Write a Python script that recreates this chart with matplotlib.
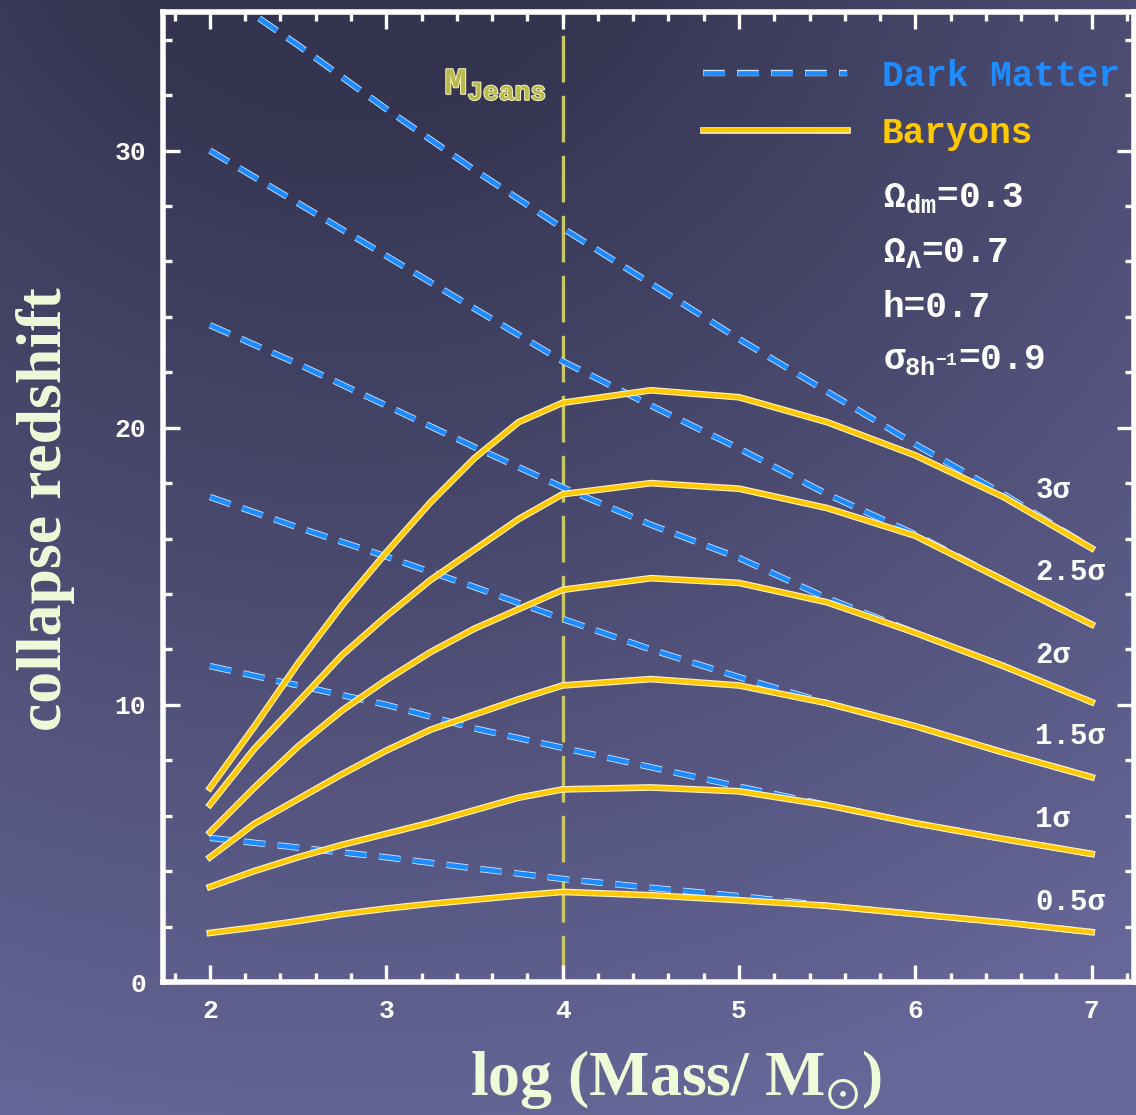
import numpy as np
import matplotlib
matplotlib.use('Agg')
import matplotlib.pyplot as plt
import matplotlib.patheffects as pe
from matplotlib.ticker import MultipleLocator

# ---------------- data ----------------
log_mass_dm = [2.0, 2.5, 3.0, 3.5, 4.0, 4.5, 5.0, 5.5, 6.0, 6.5, 7.0]
dm_3_0 = [36.0, 33.8, 31.5, 29.3, 27.2, 25.2, 23.2, 21.3, 19.4, 17.6, 15.65]
dm_2_5 = [30.0, 28.1, 26.2, 24.3, 22.4, 20.8, 19.25, 17.6, 16.15, 14.5, 12.9]
dm_2_0 = [23.7, 22.3, 20.8, 19.3, 17.85, 16.5, 15.3, 13.85, 12.6, 11.4, 10.1]
dm_1_5 = [17.5, 16.4, 15.35, 14.25, 13.1, 12.0, 11.0, 10.06, 9.23, 8.28, 7.39]
dm_1_0 = [11.4, 10.7, 10.0, 9.15, 8.45, 7.75, 7.05, 6.38, 5.73, 5.16, 4.62]
dm_0_5 = [5.2, 4.85, 4.5, 4.1, 3.72, 3.4, 3.1, 2.75, 2.45, 2.15, 1.8]

log_mass_b = [2.0, 2.25, 2.5, 2.75, 3.0, 3.25, 3.5, 3.75, 4.0, 4.5, 5.0, 5.5, 6.0, 6.5, 7.0]
bar_3_0 = [7.0, 9.2, 11.5, 13.6, 15.5, 17.3, 18.9, 20.2, 20.9, 21.35, 21.1, 20.2, 19.0, 17.5, 15.65]
bar_2_5 = [6.4, 8.4, 10.1, 11.8, 13.2, 14.5, 15.6, 16.7, 17.6, 18.0, 17.8, 17.1, 16.1, 14.5, 12.9]
bar_2_0 = [5.4, 7.0, 8.5, 9.8, 10.9, 11.9, 12.75, 13.45, 14.15, 14.57, 14.4, 13.7, 12.6, 11.4, 10.1]
bar_1_5 = [4.5, 5.7, 6.6, 7.5, 8.35, 9.1, 9.65, 10.2, 10.7, 10.93, 10.7, 10.06, 9.23, 8.28, 7.39]
bar_1_0 = [3.43, 4.0, 4.5, 4.95, 5.35, 5.75, 6.2, 6.65, 6.95, 7.02, 6.88, 6.38, 5.73, 5.16, 4.62]
bar_0_5 = [1.77, 1.97, 2.2, 2.45, 2.65, 2.82, 2.97, 3.12, 3.25, 3.13, 2.95, 2.75, 2.45, 2.15, 1.8]

sigma_labels = ['3\u03c3', '2.5\u03c3', '2\u03c3', '1.5\u03c3', '1\u03c3', '0.5\u03c3']
sigma_label_y = [17.75, 14.8, 11.8, 8.87, 5.88, 2.88]
sigma_label_x = 6.68

m_jeans = 4.0
params = [r'$\Omega_{\rm dm}$=0.3', r'$\Omega_{\Lambda}$=0.7', 'h=0.7',
          r'$\sigma_{\rm 8h^{-1}}$=0.9']

dm_series = [dm_3_0, dm_2_5, dm_2_0, dm_1_5, dm_1_0, dm_0_5]
bar_series = [bar_3_0, bar_2_5, bar_2_0, bar_1_5, bar_1_0, bar_0_5]

# ---------------- style ----------------
plt.rcParams['mathtext.fontset'] = 'custom'
plt.rcParams['mathtext.rm'] = 'Liberation Mono:bold'
plt.rcParams['mathtext.it'] = 'Liberation Mono:bold'
plt.rcParams['mathtext.bf'] = 'Liberation Mono:bold'
plt.rcParams['mathtext.fallback'] = 'stix'

W, H = 1136, 1115
fig = plt.figure(figsize=(W / 100, H / 100), dpi=100)

# background gradient
bg = fig.add_axes([0, 0, 1, 1])
bg.set_axis_off()
yy, xx = np.mgrid[0:H, 0:W]
t = np.sqrt(((xx - 350) / 1300.0) ** 2 + ((yy + 150) / 1250.0) ** 2)
t = np.clip((t - 0.2) / 0.85, 0, 1)
dark = np.array([52, 52, 80]) / 255.0
light = np.array([102, 102, 152]) / 255.0
img = dark[None, None, :] * (1 - t[..., None]) + light[None, None, :] * t[..., None]
bg.imshow(img, aspect='auto', extent=[0, 1, 0, 1], origin='upper')
bg.set_xlim(0, 1)
bg.set_ylim(0, 1)

ax = fig.add_axes([163 / W, 1 - 982 / H, (1134 - 163) / W, (982 - 12) / H])
ax.patch.set_alpha(0)
ax.set_xlim(1.734, 7.24)
ax.set_ylim(0, 35)

dm_color = '#1e8cff'
bar_color = '#ffc800'

dm_fx = [pe.Stroke(linewidth=4.6, foreground='#cfe7ff'), pe.Normal()]
bar_fx = [pe.Stroke(linewidth=4.8, foreground='#fff3c4'), pe.Normal()]

dm_lines = []
for ys in dm_series:
    ln, = ax.plot(log_mass_dm, ys, color=dm_color, lw=3.4,
                  dashes=(4.6, 2.6), solid_capstyle='butt', dash_capstyle='butt',
                  path_effects=dm_fx, zorder=2, clip_on=True)
    dm_lines.append(ln)
bar_lines = []
for ys in bar_series:
    ln, = ax.plot(log_mass_b, ys, color=bar_color, lw=3.2,
                  path_effects=bar_fx, zorder=3)
    bar_lines.append(ln)

ax.axvline(m_jeans, color='#c9c766', lw=2.4, dashes=(14, 4), zorder=1)
ax.text(3.33, 32.4, r'M$_{\rm Jeans}$', color='#b9b84a', fontsize=27,
        family='Liberation Mono', fontweight='bold', ha='left', va='center',
        path_effects=[pe.withStroke(linewidth=1.5, foreground='#f0f0c0')])

for lab, ly in zip(sigma_labels, sigma_label_y):
    ax.text(sigma_label_x, ly, lab, color='white', fontsize=21,
            family='Liberation Mono', fontweight='bold', ha='left', va='center')

leg = ax.legend([dm_lines[0], bar_lines[0]], ['Dark Matter', 'Baryons'],
                loc='upper left', bbox_to_anchor=(0.556, 0.952),
                frameon=False, borderpad=0, borderaxespad=0,
                handlelength=4.0, handletextpad=0.95, labelspacing=0.62,
                prop={'family': 'Liberation Mono', 'weight': 'bold', 'size': 26})
for txt, c in zip(leg.get_texts(), [dm_color, bar_color]):
    txt.set_color(c)

param_y = [0.809, 0.752, 0.695, 0.642]
for p, py in zip(params, param_y):
    ax.text(0.7415, py, p, transform=ax.transAxes, color='white', fontsize=26,
            family='Liberation Mono', fontweight='bold', ha='left', va='center')

# axes styling
for s in ax.spines.values():
    s.set_color('white')
    s.set_linewidth(4)
ax.xaxis.set_major_locator(MultipleLocator(1))
ax.xaxis.set_minor_locator(MultipleLocator(0.2))
ax.yaxis.set_major_locator(MultipleLocator(10))
ax.yaxis.set_minor_locator(MultipleLocator(2))
ax.tick_params(which='both', direction='in', top=True, right=True, colors='white')
ax.tick_params(which='major', length=12, width=2.4, pad=12)
ax.tick_params(which='minor', length=6.5, width=2.4)
for lab in ax.get_xticklabels() + ax.get_yticklabels():
    lab.set_family('Liberation Mono')
    lab.set_fontweight('bold')
    lab.set_fontsize(19)
    lab.set_color('white')

label_color = '#eefad8'
fig.text(0.595, 0.032, r'log (Mass/ M$_{\odot}$)', ha='center', va='center',
         color=label_color, fontsize=46, family='Liberation Serif', fontweight='bold')
fig.text(0.04, 0.543, 'collapse redshift', ha='center', va='center', rotation=90,
         color=label_color, fontsize=46, family='Liberation Serif', fontweight='bold')

fig.savefig('out.png', dpi=100)
